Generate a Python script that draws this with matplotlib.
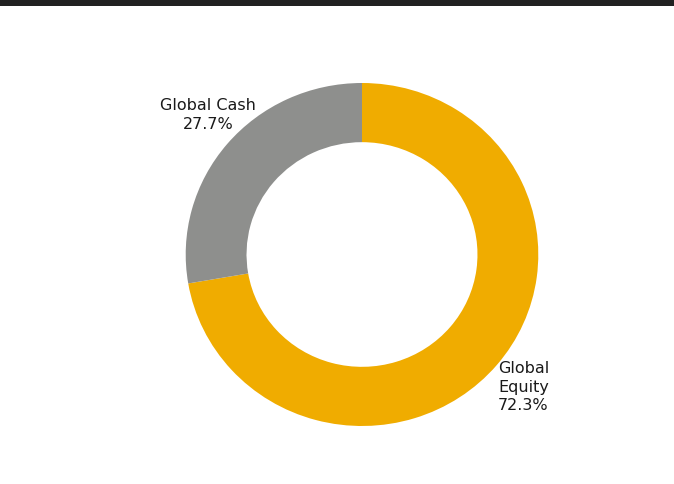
import matplotlib

matplotlib.use("Agg")

import matplotlib.pyplot as plt
from matplotlib.patches import Rectangle


labels = ["Global Equity", "Global Cash"]
shares = [72.3, 27.7]
colors = ["#F0AC00", "#8E8F8D"]


fig = plt.figure(figsize=(6.74, 4.84), dpi=100)
fig.patch.set_facecolor("white")

# dark strip along the top edge
fig.patches.append(
    Rectangle((0, 1 - 6 / 484), 1, 6 / 484, transform=fig.transFigure,
              facecolor="#212121", edgecolor="none", zorder=5)
)

# axes box sized to the (slightly wide) ring in the reference
ax = fig.add_axes([185.7 / 674, 58 / 484, 352.6 / 674, 343 / 484])
ax.pie(
    shares,
    colors=colors,
    startangle=90,
    counterclock=False,
    wedgeprops=dict(width=0.345, edgecolor="none"),
)
ax.set_aspect("auto")
ax.set_xlim(-1, 1)
ax.set_ylim(-1, 1)
ax.axis("off")

txt = dict(fontsize=11.5, color="#1a1a1a", family="DejaVu Sans", linespacing=1.28)
ax.text(-0.873, 0.814, f"Global Cash\n{shares[1]:.1f}%", ha="center", va="center",
        multialignment="center", clip_on=False, **txt)
ax.text(0.771, -0.773, f"Global\nEquity\n{shares[0]:.1f}%", ha="left", va="center",
        multialignment="left", clip_on=False, **txt)

fig.savefig("out.png", dpi=100, facecolor="white")
